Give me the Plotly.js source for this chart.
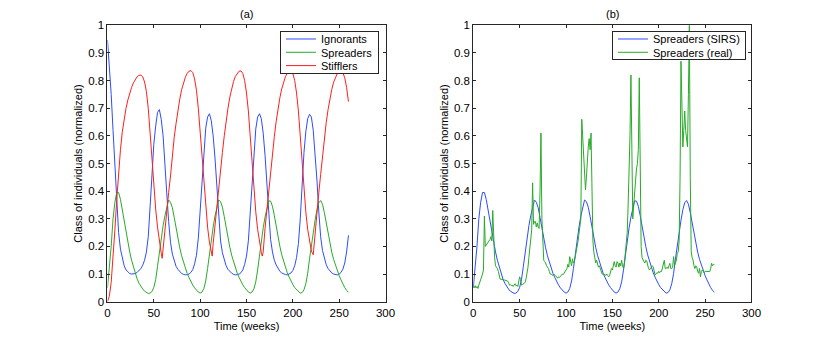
<!DOCTYPE html>
<html><head><meta charset="utf-8">
<script src="https://cdn.plot.ly/plotly-3.0.1.min.js"></script>
<style>html,body{margin:0;padding:0;background:#fff;}#chart{width:830px;height:339px;}</style>
</head><body><div id="chart"></div>
<script>
// ---- data (weeks) ----
const weeksModel = [0,2,4,6,8,10,12,14,16,18,20,22,24,26,28,30,32,34,36,38,40,42,44,46,48,50,52,54,56,58,60,62,64,66,68,70,72,74,76,78,80,82,84,86,88,90,92,94,96,98,100,102,104,106,108,110,112,114,116,118,120,122,124,126,128,130,132,134,136,138,140,142,144,146,148,150,152,154,156,158,160,162,164,166,168,170,172,174,176,178,180,182,184,186,188,190,192,194,196,198,200,202,204,206,208,210,212,214,216,218,220,222,224,226,228,230,232,234,236,238,240,242,244,246,248,250,252,254,256,258,260];

const ignorants = [0.947,0.86,0.75,0.62,0.49,0.34,0.25,0.19,0.155,0.13,0.115,0.107,0.102,0.10,0.10,0.102,0.106,0.112,0.12,0.132,0.15,0.18,0.235,0.345,0.475,0.57,0.635,0.685,0.695,0.66,0.6,0.51,0.39,0.29,0.215,0.172,0.145,0.128,0.117,0.108,0.102,0.099,0.097,0.098,0.10,0.106,0.116,0.137,0.168,0.23,0.33,0.46,0.555,0.628,0.668,0.68,0.655,0.6,0.52,0.41,0.3,0.22,0.177,0.148,0.13,0.117,0.109,0.103,0.099,0.097,0.098,0.10,0.105,0.115,0.135,0.165,0.22,0.32,0.45,0.55,0.625,0.668,0.68,0.662,0.61,0.53,0.42,0.31,0.225,0.18,0.15,0.133,0.12,0.11,0.104,0.1,0.098,0.097,0.10,0.104,0.113,0.13,0.16,0.21,0.3,0.43,0.54,0.615,0.662,0.678,0.668,0.62,0.545,0.44,0.325,0.235,0.185,0.153,0.134,0.12,0.11,0.104,0.1,0.098,0.097,0.1,0.106,0.118,0.14,0.18,0.24];

const spreaders = [0.05,0.12,0.2,0.3,0.36,0.395,0.395,0.37,0.33,0.293,0.255,0.215,0.18,0.15,0.125,0.1,0.082,0.067,0.055,0.046,0.038,0.033,0.03,0.031,0.037,0.052,0.08,0.128,0.182,0.23,0.275,0.312,0.347,0.368,0.36,0.34,0.305,0.265,0.228,0.195,0.166,0.142,0.12,0.102,0.087,0.072,0.06,0.05,0.041,0.035,0.031,0.035,0.048,0.075,0.12,0.175,0.225,0.27,0.31,0.345,0.368,0.362,0.342,0.308,0.268,0.23,0.197,0.168,0.143,0.121,0.103,0.088,0.073,0.061,0.051,0.042,0.035,0.031,0.035,0.047,0.072,0.115,0.17,0.222,0.267,0.306,0.34,0.365,0.364,0.345,0.312,0.272,0.234,0.2,0.17,0.145,0.123,0.105,0.089,0.074,0.062,0.051,0.043,0.036,0.031,0.033,0.043,0.065,0.102,0.155,0.208,0.255,0.295,0.333,0.358,0.366,0.353,0.322,0.283,0.245,0.21,0.179,0.153,0.131,0.111,0.094,0.079,0.063,0.051,0.041,0.034];

const weeksStifflers = [0,2,4,6,8,10,12,14,16,18,20,22,24,26,28,30,32,34,36,38,40,42,44,46,48,50,52,54,56,58,59,60,62,64,66,68,70,72,74,76,78,80,82,84,86,88,90,92,94,96,98,100,102,104,106,108,110,112,113,114,116,118,120,122,124,126,128,130,132,134,136,138,140,142,144,146,148,150,152,154,156,158,160,162,164,166,167,168,170,172,174,176,178,180,182,184,186,188,190,192,194,196,198,200,202,204,206,208,210,212,214,216,218,220,222,224,226,228,230,232,234,236,238,240,242,244,246,248,250,252,254,256,258,260];

const stifflers = [0,0.02,0.07,0.15,0.26,0.37,0.47,0.55,0.615,0.665,0.70,0.73,0.755,0.775,0.792,0.805,0.814,0.819,0.82,0.814,0.795,0.76,0.70,0.61,0.505,0.41,0.335,0.27,0.215,0.175,0.157,0.195,0.265,0.33,0.395,0.455,0.53,0.595,0.645,0.693,0.733,0.767,0.792,0.812,0.826,0.834,0.836,0.829,0.806,0.765,0.70,0.61,0.51,0.415,0.335,0.27,0.215,0.177,0.165,0.21,0.28,0.345,0.405,0.47,0.54,0.60,0.655,0.70,0.74,0.772,0.797,0.815,0.827,0.834,0.835,0.826,0.80,0.755,0.69,0.60,0.50,0.405,0.325,0.262,0.21,0.178,0.165,0.18,0.265,0.335,0.40,0.465,0.535,0.597,0.652,0.698,0.738,0.77,0.796,0.814,0.827,0.834,0.835,0.826,0.80,0.755,0.69,0.60,0.50,0.405,0.325,0.262,0.215,0.183,0.17,0.255,0.33,0.395,0.46,0.53,0.593,0.648,0.695,0.735,0.768,0.794,0.813,0.826,0.833,0.835,0.828,0.81,0.775,0.724];

const weeksReal = [0,1,2,3,4,5,6,7,8,9,10,11,12,13,14,15,16,17,18,19,20,21,22,23,24,25,26,27,28,29,30,31,32,33,34,35,36,37,38,39,40,41,42,43,44,45,46,47,48,49,50,51,52,53,54,55,56,57,58,59,60,61,62,63,64,65,66,67,68,69,70,71,72,73,74,75,76,77,78,79,80,81,82,83,84,85,86,87,88,89,90,91,92,93,94,95,96,97,98,99,100,101,102,103,104,105,106,107,108,109,110,111,112,113,114,115,116,117,118,119,120,121,122,123,124,125,126,127,128,129,130,131,132,133,134,135,136,137,138,139,140,141,142,143,144,145,146,147,148,149,150,151,152,153,154,155,156,157,158,159,160,161,162,163,164,165,166,167,168,169,170,171,172,173,174,175,176,177,178,179,180,181,182,183,184,185,186,187,188,189,190,191,192,193,194,195,196,197,198,199,200,201,202,203,204,205,206,207,208,209,210,211,212,213,214,215,216,217,218,219,220,221,222,223,224,225,226,227,228,229,230,231,232,233,234,235,236,237,238,239,240,241,242,243,244,245,246,247,248,249,250,251,252,253,254,255,256,257,258,259,260];

const spreadersReal = [
0.055,0.05,0.058,0.05,0.055,0.048,0.06,0.07,0.078,0.085,
0.1,0.115,0.31,0.2,0.205,0.21,0.215,0.22,0.225,0.235,
0.22,0.33,0.2,0.16,0.13,0.125,0.12,0.11,0.09,0.082,
0.08,0.082,0.078,0.08,0.078,0.077,0.078,0.075,0.07,0.06,
0.062,0.058,0.06,0.055,0.06,0.065,0.058,0.06,0.055,0.07,
0.09,0.08,0.06,0.062,0.065,0.065,0.07,0.085,0.1,0.125,
0.16,0.19,0.22,0.26,0.43,0.28,0.29,0.29,0.27,0.285,
0.27,0.265,0.4,0.61,0.3,0.18,0.15,0.145,0.14,0.13,
0.125,0.12,0.11,0.1,0.1,0.098,0.095,0.1,0.095,0.092,
0.09,0.085,0.09,0.088,0.092,0.095,0.1,0.098,0.105,0.11,
0.115,0.12,0.135,0.125,0.163,0.14,0.13,0.155,0.14,0.145,
0.16,0.18,0.2,0.22,0.25,0.27,0.3,0.66,0.58,0.5,
0.44,0.405,0.45,0.52,0.56,0.59,0.55,0.61,0.35,0.22,
0.18,0.16,0.14,0.15,0.13,0.125,0.13,0.12,0.11,0.1,
0.1,0.1,0.098,0.095,0.1,0.095,0.09,0.095,0.11,0.12,
0.115,0.13,0.145,0.13,0.125,0.145,0.14,0.125,0.14,0.13,
0.15,0.13,0.12,0.14,0.17,0.2,0.25,0.35,0.45,0.6,
0.82,0.5,0.3,0.35,0.4,0.45,0.48,0.5,0.55,0.81,
0.35,0.2,0.16,0.15,0.145,0.14,0.15,0.148,0.13,0.12,
0.115,0.12,0.125,0.13,0.127,0.11,0.097,0.1,0.105,0.103,
0.11,0.105,0.11,0.109,0.12,0.13,0.15,0.12,0.12,0.125,
0.12,0.13,0.139,0.12,0.12,0.125,0.163,0.13,0.14,0.15,
0.175,0.18,0.22,0.45,0.87,0.65,0.56,0.62,0.69,0.62,
0.58,0.56,0.75,1.0,0.45,0.18,0.16,0.15,0.13,0.12,
0.13,0.125,0.11,0.103,0.12,0.09,0.11,0.115,0.11,0.105,
0.11,0.11,0.11,0.108,0.11,0.109,0.12,0.139,0.13,0.135,
0.135];

const seriesNamesA = ['Ignorants','Spreaders','Stifflers'];
const seriesNamesB = ['Spreaders (SIRS)','Spreaders (real)'];
const panelTitles = ['(a)','(b)'];
const xTitle = 'Time (weeks)';
const yTitle = 'Class of individuals (normalized)';

// ---- styles ----
const BLUE = 'rgb(45,75,255)', GREEN = 'rgb(40,170,40)', RED = 'rgb(255,30,30)';
const FONT = '"Liberation Sans", Arial, Helvetica, sans-serif';
const AX = '#262626';

const traces = [
  {x: weeksModel, y: ignorants, name: seriesNamesA[0], mode:'lines', line:{color:BLUE,width:1}, xaxis:'x', yaxis:'y', legend:'legend'},
  {x: weeksModel, y: spreaders, name: seriesNamesA[1], mode:'lines', line:{color:GREEN,width:1}, xaxis:'x', yaxis:'y', legend:'legend'},
  {x: weeksStifflers, y: stifflers, name: seriesNamesA[2], mode:'lines', line:{color:RED,width:1}, xaxis:'x', yaxis:'y', legend:'legend'},
  {x: weeksModel, y: spreaders, name: seriesNamesB[0], mode:'lines', line:{color:BLUE,width:1}, xaxis:'x2', yaxis:'y2', legend:'legend2'},
  {x: weeksReal, y: spreadersReal, name: seriesNamesB[1], mode:'lines', line:{color:GREEN,width:1}, xaxis:'x2', yaxis:'y2', legend:'legend2'}
];

function xax(domain, anchor){
  return {domain, anchor, range:[0,300], tick0:0, dtick:50, ticks:'inside', ticklen:3, tickcolor:AX,
    showline:true, linecolor:AX, linewidth:1, mirror:'ticks', showgrid:false, zeroline:false,
    tickfont:{family:FONT,size:11.5,color:'#000'},
    title:{text:xTitle, font:{family:FONT,size:11,color:'#000'}, standoff:4}};
}
function yax(domain, anchor){
  return {domain, anchor, range:[0,1], tick0:0, dtick:0.1, ticks:'inside', ticklen:3, tickcolor:AX,
    showline:true, linecolor:AX, linewidth:1, mirror:'ticks', showgrid:false, zeroline:false,
    tickfont:{family:FONT,size:11.5,color:'#000'},
    title:{text:yTitle, font:{family:FONT,size:11,color:'#000'}, standoff:3}};
}
const yDom = [0.110, 0.9254];
const legendStyle = {xanchor:'right', yanchor:'top', y:0.9086, bgcolor:'#fff', bordercolor:AX, borderwidth:1,
  font:{family:FONT,size:11,color:'#000'}};

const layout = {
  width:830, height:339, margin:{l:0,r:0,t:0,b:0},
  paper_bgcolor:'#fff', plot_bgcolor:'#fff', showlegend:true, hovermode:false,
  font:{family:FONT,color:'#000'},
  xaxis: xax([0.1295,0.4645],'y'),
  yaxis: yax(yDom,'x'),
  xaxis2: xax([0.5702,0.9054],'y2'),
  yaxis2: yax(yDom,'x2'),
  legend: Object.assign({x:0.4566}, legendStyle),
  legend2: Object.assign({x:0.8988}, legendStyle),
  annotations: [
    {text:panelTitles[0], xref:'x domain', yref:'paper', x:0.5, y:1-14/339, xanchor:'center', yanchor:'middle', showarrow:false, font:{family:FONT,size:11,color:'#000'}},
    {text:panelTitles[1], xref:'x2 domain', yref:'paper', x:0.5, y:1-14/339, xanchor:'center', yanchor:'middle', showarrow:false, font:{family:FONT,size:11,color:'#000'}}
  ]
};

// MATLAB-style legends have tighter rows than Plotly's minimum entry height:
// after drawing, tighten the rows of each native legend and its box.
function tightenLegends(gd){
  const rowGap = 13.3, firstRow = 8;
  const legends = Array.from(gd.querySelectorAll('g.infolayer > g'))
    .filter(g => /^legend\d*$/.test(g.getAttribute('class') || ''));
  legends.forEach(lg => {
    const items = lg.querySelectorAll('g.traces');
    items.forEach((it, i) => {
      const m = /translate\(\s*([-\d.e]+)[\s,]+([-\d.e]+)\s*\)/.exec(it.getAttribute('transform') || '');
      const x = m ? parseFloat(m[1]) : 0;
      it.setAttribute('transform', 'translate(' + x + ',' + (firstRow + i * rowGap) + ')');
    });
    const bg = lg.querySelector('rect.bg');
    if (bg) bg.setAttribute('height', 2 * firstRow - 1 + (items.length - 1) * rowGap);
  });
}
Plotly.newPlot('chart', traces, layout, {displayModeBar:false, staticPlot:true}).then(tightenLegends);
</script></body></html>
